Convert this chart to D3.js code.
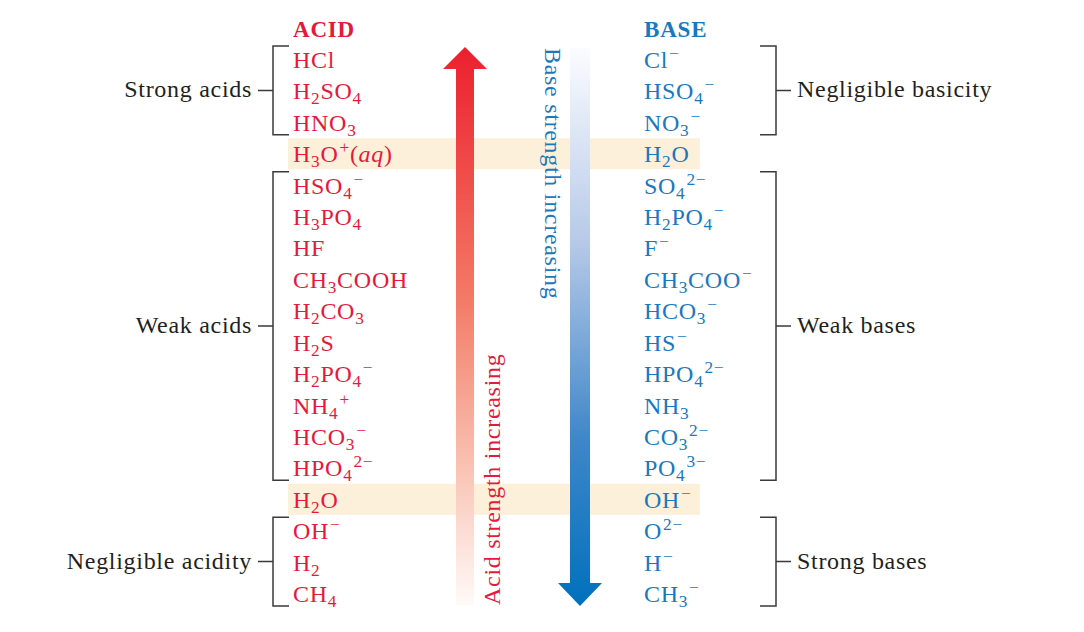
<!DOCTYPE html>
<html>
<head>
<meta charset="utf-8">
<script src="https://cdn.jsdelivr.net/npm/d3@7"></script>
<style>
  body { margin: 0; background: #fff; }
  svg text { font-family: "Liberation Serif", "DejaVu Serif", serif; }
</style>
</head>
<body>
<div id="chart"></div>
<script>
// conjugate pairs, strongest acid at top
var acids = ["HCl", "H_2SO_4", "HNO_3", "H_3O^{+}(*aq*)", "HSO_4^{−}", "H_3PO_4", "HF",
  "CH_3COOH", "H_2CO_3", "H_2S", "H_2PO_4^{−}", "NH_4^{+}", "HCO_3^{−}", "HPO_4^{2−}",
  "H_2O", "OH^{−}", "H_2", "CH_4"];
var bases = ["Cl^{−}", "HSO_4^{−}", "NO_3^{−}", "H_2O", "SO_4^{2−}", "H_2PO_4^{−}", "F^{−}",
  "CH_3COO^{−}", "HCO_3^{−}", "HS^{−}", "HPO_4^{2−}", "NH_3", "CO_3^{2−}", "PO_4^{3−}",
  "OH^{−}", "O^{2−}", "H^{−}", "CH_3^{−}"];
var highlightRows = [3, 14];
var acidGroups = [
  { label: "Strong acids", from: 0, to: 2 },
  { label: "Weak acids", from: 4, to: 13 },
  { label: "Negligible acidity", from: 15, to: 17 }
];
var baseGroups = [
  { label: "Negligible basicity", from: 0, to: 2 },
  { label: "Weak bases", from: 4, to: 13 },
  { label: "Strong bases", from: 15, to: 17 }
];
var headers = ["ACID", "BASE"];
var arrowLabels = ["Acid strength increasing", "Base strength increasing"];

var svgWidth = 1084, svgHeight = 632;
var red = "#e5193b", blue = "#1a78bf", ink = "#231f20";
var fontSize = 24, spacing = 0.7;

var svg = d3.select("#chart").append("svg")
  .attr("width", svgWidth)
  .attr("height", svgHeight);

// row baselines
var y = d3.scaleLinear().domain([0, acids.length - 1]).range([68, 602]);
var x = d3.scaleOrdinal().domain(["acid", "base"]).range([293, 644]);

var defs = svg.append("defs");
var gRed = defs.append("linearGradient").attr("id", "gradRed")
  .attr("x1", 0).attr("y1", 0).attr("x2", 0).attr("y2", 1);
gRed.append("stop").attr("offset", 0).attr("stop-color", "#ec1f2e");
gRed.append("stop").attr("offset", 0.45).attr("stop-color", "#f37a66");
gRed.append("stop").attr("offset", 0.75).attr("stop-color", "#f9c2b3");
gRed.append("stop").attr("offset", 1).attr("stop-color", "#fffaf8");
var gBlue = defs.append("linearGradient").attr("id", "gradBlue")
  .attr("x1", 0).attr("y1", 0).attr("x2", 0).attr("y2", 1);
gBlue.append("stop").attr("offset", 0).attr("stop-color", "#fbfcff");
gBlue.append("stop").attr("offset", 0.35).attr("stop-color", "#b6c9e8");
gBlue.append("stop").attr("offset", 0.7).attr("stop-color", "#3f87c9");
gBlue.append("stop").attr("offset", 1).attr("stop-color", "#0070bc");

// highlight bands (water rows)
svg.selectAll(".band")
  .data(highlightRows)
  .enter().append("rect")
  .attr("class", "band")
  .attr("x", x("acid") - 5)
  .attr("y", d => y(d) - 24)
  .attr("width", 700 - (x("acid") - 5))
  .attr("height", 31)
  .attr("fill", "#fdf0da");

// red arrow (up)
var rx = 465, rTop = y(0) - 21, rBot = y(acids.length - 1) + 3;
svg.append("path")
  .attr("d", `M${rx},${rTop} L${rx + 22},${rTop + 22} L${rx + 9},${rTop + 22} L${rx + 9},${rBot}
    L${rx - 9},${rBot} L${rx - 9},${rTop + 22} L${rx - 22},${rTop + 22} Z`)
  .attr("fill", "url(#gradRed)");

// blue arrow (down)
var bx = 580, bTop = y(0) - 20, bBot = y(acids.length - 1) + 4;
svg.append("path")
  .attr("d", `M${bx - 10},${bTop} L${bx + 10},${bTop} L${bx + 10},${bBot - 23} L${bx + 22},${bBot - 23}
    L${bx},${bBot} L${bx - 22},${bBot - 23} L${bx - 10},${bBot - 23} Z`)
  .attr("fill", "url(#gradBlue)");

svg.append("text")
  .attr("transform", `translate(500, ${rBot}) rotate(-90)`)
  .attr("fill", red)
  .attr("font-size", fontSize)
  .attr("letter-spacing", spacing)
  .text(arrowLabels[0]);

svg.append("text")
  .attr("transform", `translate(545, ${rTop + 1}) rotate(90)`)
  .attr("fill", blue)
  .attr("font-size", fontSize)
  .attr("letter-spacing", spacing)
  .text(arrowLabels[1]);

// headers
svg.selectAll(".header")
  .data(headers)
  .enter().append("text")
  .attr("class", "header")
  .attr("x", (d, i) => x(i ? "base" : "acid"))
  .attr("y", 37)
  .attr("font-size", 23)
  .attr("letter-spacing", 0.8)
  .attr("font-weight", "bold")
  .attr("fill", (d, i) => i ? blue : red)
  .text(d => d);

// parse "H_2SO_4^{2−}" style strings into pieces
function parseFormula(s) {
  var parts = [], i = 0;
  while (i < s.length) {
    var c = s[i];
    if (c === "_") {
      parts.push({ t: s[i + 1], k: "sub" });
      i += 2;
    } else if (c === "^") {
      var end = s.indexOf("}", i);
      parts.push({ t: s.slice(i + 2, end), k: "sup" });
      i = end + 1;
    } else if (c === "*") {
      var e2 = s.indexOf("*", i + 1);
      parts.push({ t: s.slice(i + 1, e2), k: "it" });
      i = e2 + 1;
    } else {
      parts.push({ t: c, k: "n" });
      i += 1;
    }
  }
  return parts;
}

var shifts = { n: 0, it: 0, sub: 5, sup: -9 };

function drawColumn(list, key, color) {
  var rows = svg.selectAll("." + key)
    .data(list)
    .enter().append("text")
    .attr("class", key)
    .attr("x", x(key))
    .attr("y", (d, i) => y(i))
    .attr("font-size", fontSize)
    .attr("letter-spacing", spacing)
    .attr("fill", color);

  rows.each(function(d) {
    var el = d3.select(this), cur = 0;
    parseFormula(d).forEach(function(p) {
      var ts = el.append("tspan").text(p.t);
      var dy = shifts[p.k] - cur;
      if (dy) ts.attr("dy", dy);
      cur = shifts[p.k];
      if (p.k === "sub" || p.k === "sup") ts.attr("font-size", "0.72em");
      if (p.k === "sup") ts.attr("dx", 1);
      if (p.k === "it") ts.attr("font-style", "italic");
    });
  });
}

drawColumn(acids, "acid", red);
drawColumn(bases, "base", blue);

// brackets
function drawBrackets(groups, side) {
  var vx = side === "left" ? 273 : 776;
  var ex = side === "left" ? 289 : 760;
  var tx = side === "left" ? 258 : 791;
  groups.forEach(function(g) {
    var t = y(g.from) - 22, b = y(g.to) + 4, m = (t + b) / 2;
    svg.append("path")
      .attr("d", `M${ex},${t} H${vx} V${b} H${ex} M${vx},${m} H${tx}`)
      .attr("fill", "none")
      .attr("stroke", "#3a3a3a")
      .attr("stroke-width", 1.5);
    svg.append("text")
      .attr("x", side === "left" ? tx - 6 : tx + 6)
      .attr("y", m + 7)
      .attr("text-anchor", side === "left" ? "end" : "start")
      .attr("font-size", fontSize)
      .attr("letter-spacing", spacing)
      .attr("fill", ink)
      .text(g.label);
  });
}

drawBrackets(acidGroups, "left");
drawBrackets(baseGroups, "right");
</script>
</body>
</html>
